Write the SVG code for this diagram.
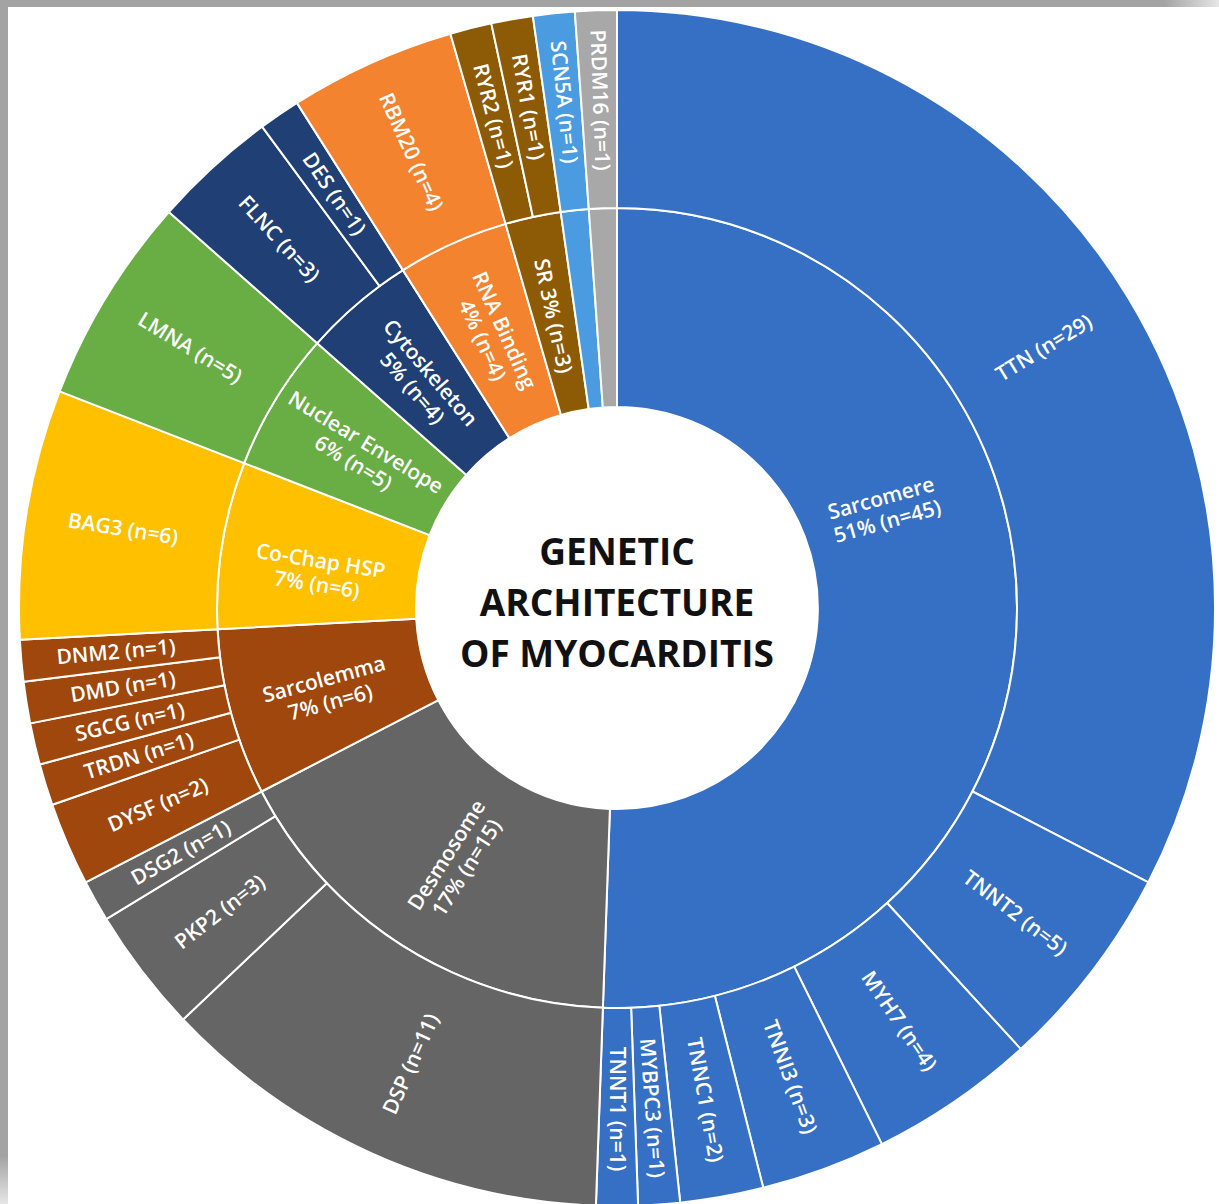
<svg xmlns="http://www.w3.org/2000/svg" width="1219" height="1204" viewBox="0 0 1219 1204">
<defs>
<linearGradient id="gTop" x1="0" y1="0" x2="1" y2="0">
<stop offset="0" stop-color="#a3a3a3"/><stop offset="0.955" stop-color="#a3a3a3"/><stop offset="1" stop-color="#e6e6e6"/>
</linearGradient>
<linearGradient id="gLeft" x1="0" y1="0" x2="0" y2="1">
<stop offset="0" stop-color="#a3a3a3"/><stop offset="0.96" stop-color="#a3a3a3"/><stop offset="1" stop-color="#e6e6e6"/>
</linearGradient>
</defs>
<style>
.s{stroke:#ffffff;stroke-width:2;stroke-linejoin:round}
.sar{fill:#3570c4}.des{fill:#656565}.scl{fill:#9f470c}.hsp{fill:#ffc000}.nuc{fill:#69ad45}.cyt{fill:#203f74}.rna{fill:#f4832f}.sr{fill:#8d5b05}.scn{fill:#4a9bdf}.prd{fill:#a8a8a8}
.lbl{font-family:"Open Sans","Noto Sans","DejaVu Sans",sans-serif;font-weight:600;font-size:21px;fill:#ffffff;text-anchor:middle}
.title{font-family:"Open Sans","Noto Sans","DejaVu Sans",sans-serif;font-weight:700;font-size:37px;fill:#111111;text-anchor:middle}
</style>
<rect x="0" y="0" width="1219" height="1204" fill="#ffffff"/>
<rect x="0" y="0" width="1219" height="7" fill="url(#gTop)"/>
<rect x="0" y="0" width="8" height="1204" fill="url(#gLeft)"/>

<!-- inner ring -->
<g id="sarcomere"><path class="s sar" d="M617,208 A400,400 0 1 1 602.89,1007.75 L609.91,808.88 A201,201 0 1 0 617,407 Z"/>
<text class="lbl" transform="translate(884,509) rotate(-15.6)"><tspan x="0" y="-4">Sarcomere</tspan><tspan x="0" y="20">51% (n=45)</tspan></text></g>
<g id="desmosome"><path class="s des" d="M602.89,1007.75 A400,400 0 0 1 261.54,791.49 L438.38,700.2 A201,201 0 0 0 609.91,808.88 Z"/>
<text class="lbl" transform="translate(456,861) rotate(-57.6)"><tspan x="0" y="-4">Desmosome</tspan><tspan x="0" y="20">17% (n=15)</tspan></text></g>
<g id="sarcolemma"><path class="s scl" d="M261.54,791.49 A400,400 0 0 1 217.56,629.17 L416.28,618.64 A201,201 0 0 0 438.38,700.2 Z"/>
<text class="lbl" transform="translate(327,690) rotate(-15.2)"><tspan x="0" y="-4">Sarcolemma</tspan><tspan x="0" y="20">7% (n=6)</tspan></text></g>
<g id="cochap"><path class="s hsp" d="M217.56,629.17 A400,400 0 0 1 244.16,463.11 L429.65,535.19 A201,201 0 0 0 416.28,618.64 Z"/>
<text class="lbl" transform="translate(319,572) rotate(9.1)"><tspan x="0" y="-4">Co-Chap HSP</tspan><tspan x="0" y="20">7% (n=6)</tspan></text></g>
<g id="nuclear"><path class="s nuc" d="M244.16,463.11 A400,400 0 0 1 317.23,343.15 L466.36,474.91 A201,201 0 0 0 429.65,535.19 Z"/>
<text class="lbl" transform="translate(360,452) rotate(31.35)"><tspan x="0" y="-4">Nuclear Envelope</tspan><tspan x="0" y="20">6% (n=5)</tspan></text></g>
<g id="cytoskeleton"><path class="s cyt" d="M317.23,343.15 A400,400 0 0 1 402.9,270.11 L509.41,438.21 A201,201 0 0 0 466.36,474.91 Z"/>
<text class="lbl" transform="translate(422,380) rotate(49.55)"><tspan x="0" y="-4">Cytoskeleton</tspan><tspan x="0" y="20">5% (n=4)</tspan></text></g>
<g id="rnabinding"><path class="s rna" d="M402.9,270.11 A400,400 0 0 1 505.54,223.84 L560.99,414.96 A201,201 0 0 0 509.41,438.21 Z"/>
<text class="lbl" transform="translate(494,335) rotate(65.73)"><tspan x="0" y="-4">RNA Binding</tspan><tspan x="0" y="20">4% (n=4)</tspan></text></g>
<g id="sr"><path class="s sr" d="M505.54,223.84 A400,400 0 0 1 560.71,211.98 L588.71,409 A201,201 0 0 0 560.99,414.96 Z"/>
<text class="lbl" transform="translate(553,316) rotate(77.87)" y="7">SR 3% (n=3)</text></g>
<g id="channel"><path class="s scn" d="M560.71,211.98 A400,400 0 0 1 588.78,209 L602.82,407.5 A201,201 0 0 0 588.71,409 Z"/></g>
<g id="transcription"><path class="s prd" d="M588.78,209 A400,400 0 0 1 617,208 L617,407 A201,201 0 0 0 602.82,407.5 Z"/></g>

<!-- outer ring -->
<g id="ttn"><path class="s sar" d="M617,10 A598,598 0 0 1 1148.42,882.32 L972.46,791.49 A400,400 0 0 0 617,208 Z"/>
<text class="lbl" transform="translate(1044,348) rotate(-31.35)" y="7">TTN (n=29)</text></g>
<g id="tnnt2"><path class="s sar" d="M1148.42,882.32 A598,598 0 0 1 1020.8,1049.1 L887.1,903.05 A400,400 0 0 0 972.46,791.49 Z"/>
<text class="lbl" transform="translate(1015,913) rotate(37.42)" y="7">TNNT2 (n=5)</text></g>
<g id="myh7"><path class="s sar" d="M1020.8,1049.1 A598,598 0 0 1 881.88,1144.14 L794.18,966.62 A400,400 0 0 0 887.1,903.05 Z"/>
<text class="lbl" transform="translate(899,1021) rotate(55.62)" y="7">MYH7 (n=4)</text></g>
<g id="tnni3"><path class="s sar" d="M881.88,1144.14 A598,598 0 0 1 763.26,1187.84 L714.83,995.86 A400,400 0 0 0 794.18,966.62 Z"/>
<text class="lbl" transform="translate(790,1077) rotate(69.78)" y="7">TNNI3 (n=3)</text></g>
<g id="tnnc1"><path class="s sar" d="M763.26,1187.84 A598,598 0 0 1 680.2,1202.65 L659.28,1005.76 A400,400 0 0 0 714.83,995.86 Z"/>
<text class="lbl" transform="translate(705,1100) rotate(79.89)" y="7">TNNC1 (n=2)</text></g>
<g id="mybpc3"><path class="s sar" d="M680.2,1202.65 A598,598 0 0 1 638.1,1205.63 L631.11,1007.75 A400,400 0 0 0 659.28,1005.76 Z"/>
<text class="lbl" transform="translate(652,1108) rotate(85.96)" y="7">MYBPC3 (n=1)</text></g>
<g id="tnnt1"><path class="s sar" d="M638.1,1205.63 A598,598 0 0 1 595.9,1205.63 L602.89,1007.75 A400,400 0 0 0 631.11,1007.75 Z"/>
<text class="lbl" transform="translate(617,1109) rotate(90)" y="7">TNNT1 (n=1)</text></g>
<g id="dsp"><path class="s des" d="M595.9,1205.63 A598,598 0 0 1 183.09,1019.53 L326.76,883.27 A400,400 0 0 0 602.89,1007.75 Z"/>
<text class="lbl" transform="translate(411,1064) rotate(-65.73)" y="7">DSP (n=11)</text></g>
<g id="pkp2"><path class="s des" d="M183.09,1019.53 A598,598 0 0 1 106.26,919.12 L275.37,816.11 A400,400 0 0 0 326.76,883.27 Z"/>
<text class="lbl" transform="translate(220,912) rotate(-37.42)" y="7">PKP2 (n=3)</text></g>
<g id="dsg2"><path class="s des" d="M106.26,919.12 A598,598 0 0 1 85.58,882.32 L261.54,791.49 A400,400 0 0 0 275.37,816.11 Z"/>
<text class="lbl" transform="translate(181,853) rotate(-29.33)" y="7">DSG2 (n=1)</text></g>
<g id="dysf"><path class="s scl" d="M85.58,882.32 A598,598 0 0 1 52.26,804.81 L239.24,739.64 A400,400 0 0 0 261.54,791.49 Z"/>
<text class="lbl" transform="translate(158,805) rotate(-23.26)" y="7">DYSF (n=2)</text></g>
<g id="trdn"><path class="s scl" d="M52.26,804.81 A598,598 0 0 1 39.77,764.5 L230.9,712.68 A400,400 0 0 0 239.24,739.64 Z"/>
<text class="lbl" transform="translate(139,756) rotate(-17.19)" y="7">TRDN (n=1)</text></g>
<g id="sgcg"><path class="s scl" d="M39.77,764.5 A598,598 0 0 1 30.16,723.39 L224.47,685.18 A400,400 0 0 0 230.9,712.68 Z"/>
<text class="lbl" transform="translate(130,722) rotate(-13.15)" y="7">SGCG (n=1)</text></g>
<g id="dmd"><path class="s scl" d="M30.16,723.39 A598,598 0 0 1 23.56,681.7 L220.05,657.3 A400,400 0 0 0 224.47,685.18 Z"/>
<text class="lbl" transform="translate(123,687) rotate(-9.1)" y="7">DMD (n=1)</text></g>
<g id="dnm2"><path class="s scl" d="M23.56,681.7 A598,598 0 0 1 19.84,639.65 L217.56,629.17 A400,400 0 0 0 220.05,657.3 Z"/>
<text class="lbl" transform="translate(116,652) rotate(-5.06)" y="7">DNM2 (n=1)</text></g>
<g id="bag3"><path class="s hsp" d="M19.84,639.65 A598,598 0 0 1 59.6,391.39 L244.16,463.11 A400,400 0 0 0 217.56,629.17 Z"/>
<text class="lbl" transform="translate(123,529) rotate(9.1)" y="7">BAG3 (n=6)</text></g>
<g id="lmna"><path class="s nuc" d="M59.6,391.39 A598,598 0 0 1 168.84,212.05 L317.23,343.15 A400,400 0 0 0 244.16,463.11 Z"/>
<text class="lbl" transform="translate(190,348) rotate(31.35)" y="7">LMNA (n=5)</text></g>
<g id="flnc"><path class="s cyt" d="M168.84,212.05 A598,598 0 0 1 262.09,126.68 L379.6,286.05 A400,400 0 0 0 317.23,343.15 Z"/>
<text class="lbl" transform="translate(279,239) rotate(47.53)" y="7">FLNC (n=3)</text></g>
<g id="des"><path class="s cyt" d="M262.09,126.68 A598,598 0 0 1 296.92,102.86 L402.9,270.11 A400,400 0 0 0 379.6,286.05 Z"/>
<text class="lbl" transform="translate(334,194) rotate(55.62)" y="7">DES (n=1)</text></g>
<g id="rbm20"><path class="s rna" d="M296.92,102.86 A598,598 0 0 1 450.36,33.69 L505.54,223.84 A400,400 0 0 0 402.9,270.11 Z"/>
<text class="lbl" transform="translate(411,152) rotate(65.73)" y="7">RBM20 (n=4)</text></g>
<g id="ryr2"><path class="s sr" d="M450.36,33.69 A598,598 0 0 1 491.29,23.36 L532.92,216.94 A400,400 0 0 0 505.54,223.84 Z"/>
<text class="lbl" transform="translate(493,116) rotate(75.84)" y="7">RYR2 (n=1)</text></g>
<g id="ryr1"><path class="s sr" d="M491.29,23.36 A598,598 0 0 1 532.84,15.95 L560.71,211.98 A400,400 0 0 0 532.92,216.94 Z"/>
<text class="lbl" transform="translate(528,107) rotate(79.89)" y="7">RYR1 (n=1)</text></g>
<g id="scn5a"><path class="s scn" d="M532.84,15.95 A598,598 0 0 1 574.82,11.49 L588.78,209 A400,400 0 0 0 560.71,211.98 Z"/>
<text class="lbl" transform="translate(564,102) rotate(83.93)" y="7">SCN5A (n=1)</text></g>
<g id="prdm16"><path class="s prd" d="M574.82,11.49 A598,598 0 0 1 617,10 L617,208 A400,400 0 0 0 588.78,209 Z"/>
<text class="lbl" transform="translate(600,100) rotate(87.98)" y="7">PRDM16 (n=1)</text></g>

<g id="center">
<circle cx="617" cy="608" r="200" fill="#ffffff"/>
<text class="title"><tspan x="617" y="565">GENETIC</tspan><tspan x="617" y="616">ARCHITECTURE</tspan><tspan x="617" y="667">OF MYOCARDITIS</tspan></text>
</g>
</svg>
